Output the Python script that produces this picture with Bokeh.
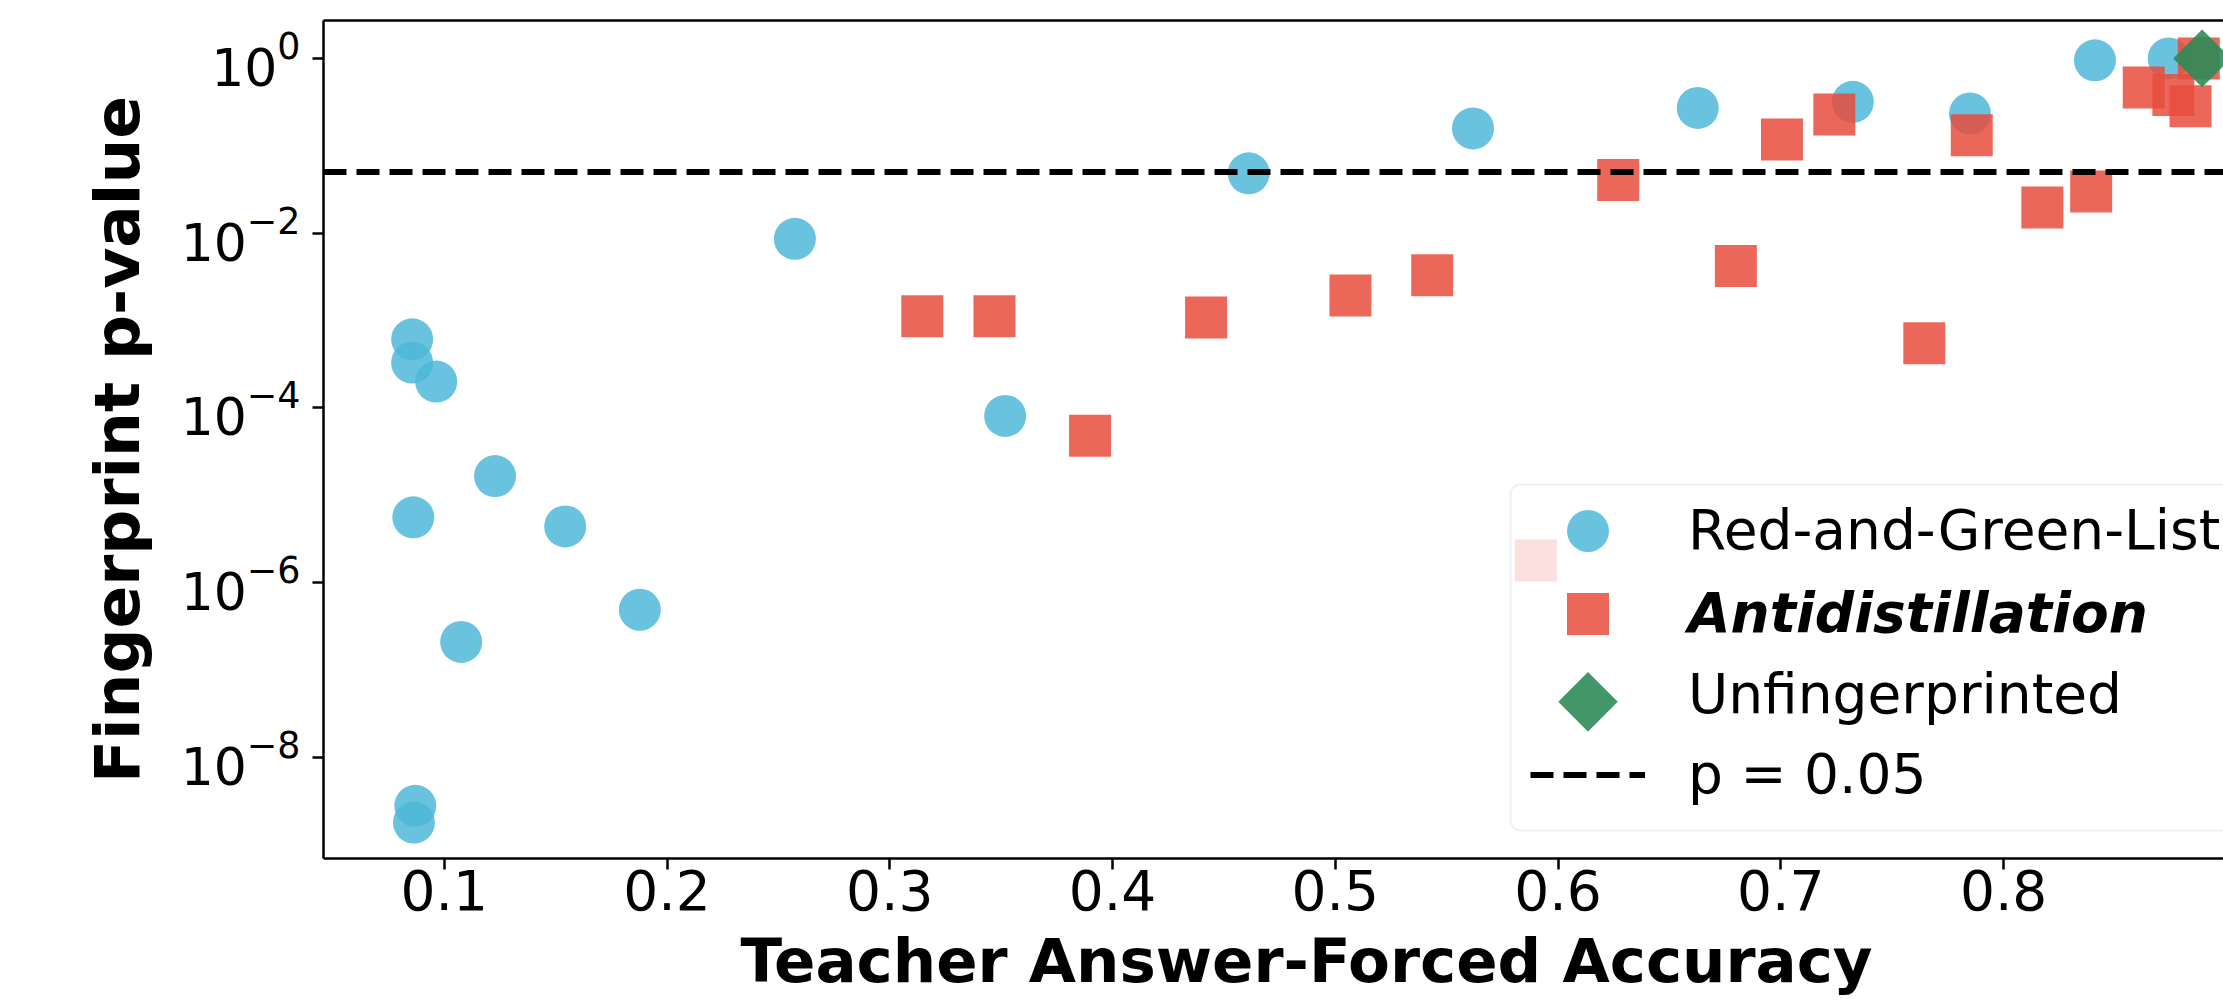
import math
from bokeh.plotting import figure
from bokeh.models import (Range1d, FixedTicker, LinearAxis, Legend, LegendItem,
                          Label, Title, BoxAnnotation)
from bokeh.core.properties import value
from bokeh.embed import file_html
from bokeh.resources import INLINE

# ---- data ----
x_ticks = [0.1, 0.2, 0.3, 0.4, 0.5, 0.6, 0.7, 0.8, 0.9]
y_ticks = [1e-8, 1e-6, 1e-4, 1e-2, 1e0]

rg_acc = [0.0856, 0.0856, 0.0964, 0.2574, 0.3518, 0.1228, 0.4611, 0.0861, 0.1543,
          0.1878, 0.1076, 0.0870, 0.0864, 0.5618, 0.6627, 0.7323, 0.7849, 0.8410, 0.8741]
rg_p = [6.1e-4, 3.3e-4, 2.0e-4, 8.6e-3, 8.1e-5, 1.66e-5, 0.0484, 5.6e-6, 4.4e-6,
        4.9e-7, 2.1e-7, 2.8e-9, 1.8e-9, 0.158, 0.271, 0.318, 0.234, 0.95, 1.0]

ad_acc = [0.3146, 0.3470, 0.4420, 0.3899, 0.5900, 0.5068, 0.5435, 0.6270, 0.6798,
          0.7005, 0.7240, 0.7644, 0.7857, 0.8174, 0.8393, 0.8629, 0.8762, 0.8839, 0.8876]
ad_p = [1.12e-3, 1.12e-3, 1.08e-3, 4.8e-5, 1.79e-6, 1.93e-3, 3.3e-3, 0.0406, 4.2e-3,
        0.118, 0.228, 5.5e-4, 0.132, 0.0197, 0.0299, 0.463, 0.38, 0.284, 1.0]

unf_acc = [0.8891]
unf_p = [1.0]

p_threshold = 0.05

labels = ["Red-and-Green-List", "Antidistillation", "Unfingerprinted", "p = 0.05"]
x_label = "Teacher Answer-Forced Accuracy"
y_label = "Fingerprint p-value"

x_min, x_max = 0.0458, 0.8987
y_min, y_max = 6.98e-10, 2.713

FONT = "DejaVu Sans"
BLUE = "#4fb8d8"
RED = "#e74c3c"
GREEN = "#2e8b57"

W, H = 2223, 1006
FL, FT, FB = 323, 20, 861   # frame left / top / bottom in canvas pixels

p = figure(width=W, height=H, output_backend="svg", toolbar_location=None,
           x_range=Range1d(x_min, x_max), y_range=Range1d(y_min, y_max),
           y_axis_type="log",
           min_border_left=FL, min_border_right=0, min_border_top=FT,
           min_border_bottom=H - FB)
p.grid.visible = False
p.outline_line_color = None
p.background_fill_color = "white"
p.border_fill_color = "white"

# axes
for ax in (p.xaxis[0], p.yaxis[0]):
    ax.axis_line_width = 2.5
    ax.axis_line_color = "black"
    ax.major_tick_line_width = 2.5
    ax.major_tick_out = 11
    ax.major_tick_in = 0
    ax.minor_tick_line_color = None
    ax.major_label_text_font = FONT
    ax.major_label_text_color = "black"

p.xaxis[0].ticker = FixedTicker(ticks=x_ticks)
p.xaxis[0].major_label_text_font_size = "55px"
p.xaxis[0].major_label_standoff = 0
p.yaxis[0].ticker = FixedTicker(ticks=y_ticks)
p.yaxis[0].major_label_text_font_size = "52px"
p.yaxis[0].major_label_standoff = 12
p.yaxis[0].axis_label = y_label
p.yaxis[0].axis_label_text_font = FONT
p.yaxis[0].axis_label_text_font_size = "63px"
p.yaxis[0].axis_label_text_font_style = "bold"
p.yaxis[0].axis_label_text_color = "black"
p.yaxis[0].axis_label_standoff = 24

top_axis = LinearAxis(ticker=FixedTicker(ticks=[]), axis_line_width=2.5,
                      axis_line_color="black", major_tick_out=0, major_tick_in=0,
                      minor_tick_out=0, minor_tick_in=0, major_label_standoff=0,
                      major_label_text_font_size="0px")
p.add_layout(top_axis, "above")

# x-axis title, placed as a "below" title so that it can be offset
p.add_layout(Title(text=x_label, align="left", offset=417, standoff=21,
                   text_font=FONT, text_font_size="61px", text_font_style="bold",
                   text_color="black"), "below")

# marks
r1 = p.scatter(rg_acc, rg_p, marker="circle", size=42, fill_color=BLUE,
               fill_alpha=0.85, line_color=None)
r2 = p.scatter(ad_acc, ad_p, marker="square", size=42, fill_color=RED,
               fill_alpha=0.85, line_color=None)
r3 = p.scatter(unf_acc, unf_p, marker="square", angle=math.pi / 4, size=41,
               fill_color=GREEN, fill_alpha=0.9, line_color=None)
# invisible twin used only as the legend entry of the diamond
r3_leg = p.scatter(unf_acc, unf_p, marker="square", size=41, fill_alpha=0,
                   line_alpha=0)

r4 = p.line(x=[x_min, x_max], y=[p_threshold, p_threshold], line_color="black",
            line_width=6, line_dash="23 10")

# legend: a framed box plus one transparent single-item legend per row
BOX_L, BOX_T, BOX_B = 1510, 487, 833
box_kw = dict(left=BOX_L - FL, right=W + 30 - FL, top=FB - BOX_T, bottom=FB - BOX_B,
              left_units="screen", right_units="screen", top_units="screen",
              bottom_units="screen", fill_color="white", fill_alpha=0.8,
              line_color="#cccccc", line_width=2, level="annotation")
if "border_radius" in BoxAnnotation.properties():
    box_kw["border_radius"] = 10
p.add_layout(BoxAnnotation(**box_kw))

GL, GW, GH, TEXT_X = 1530, 115, 105, 1688
row_c = [533, 616, 697, 777]
row_items = [(labels[0], r1, "normal"), (labels[1], r2, "bold italic"),
             (labels[2], r3_leg, "normal"), (labels[3], r4, "normal")]
for (lab, rend, style), cy in zip(row_items, row_c):
    lg = Legend(items=[LegendItem(label=value(lab), renderers=[rend])],
                location=(GL - FL, FB - (cy + GH / 2)))
    lg.label_text_font = FONT
    lg.label_text_font_size = "55px"
    lg.label_text_font_style = style
    lg.label_text_color = "black"
    lg.glyph_height = GH
    lg.glyph_width = GW
    lg.padding = 0
    lg.spacing = 0
    lg.margin = 0
    lg.label_standoff = TEXT_X - GL - GW
    lg.border_line_color = None
    lg.background_fill_alpha = 0
    p.add_layout(lg)

p.add_layout(Label(x=GL + GW / 2 - FL, y=FB - row_c[2], x_units="screen",
                   y_units="screen", text="\u25c6", text_font=FONT,
                   text_font_size="78px", text_color=GREEN, text_alpha=0.9,
                   text_align="center", text_baseline="middle", level="overlay"))

open("out.html", "w").write(file_html(p, INLINE))
